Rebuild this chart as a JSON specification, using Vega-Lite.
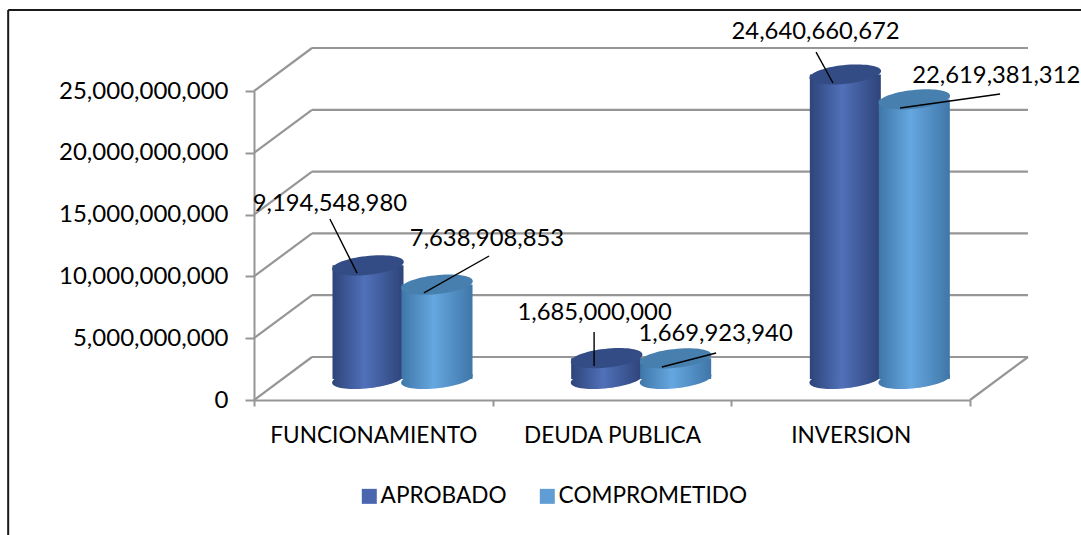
{
"$schema":"https://vega.github.io/schema/vega-lite/v6.json",
"width":716,"height":309,"autosize":"none",
"padding":{"left":254,"top":91,"right":111,"bottom":135},
"background":"white",
"config":{"view":{"stroke":null},"font":"Lato"},
"datasets":{
"bars":[
{"category":"FUNCIONAMIENTO","series":"APROBADO","value":9194548980,"labelU":0.318,"labelV":15860000000,"lineU":0.318,"lineV":14640000000,"endU":0.432,"endV":10270000000},
{"category":"FUNCIONAMIENTO","series":"COMPROMETIDO","value":7638908853,"labelU":0.976,"labelV":13020000000,"lineU":0.985,"lineV":11650000000,"endU":0.712,"endV":8660000000},
{"category":"DEUDA PUBLICA","series":"APROBADO","value":1685000000,"labelU":1.427,"labelV":7040000000,"lineU":1.425,"lineV":5500000000,"endU":1.425,"endV":2750000000},
{"category":"DEUDA PUBLICA","series":"COMPROMETIDO","value":1669923940,"labelU":1.934,"labelV":5340000000,"lineU":1.936,"lineV":3800000000,"endU":1.709,"endV":2670000000},
{"category":"INVERSION","series":"APROBADO","value":24640660672,"labelU":2.353,"labelV":29770000000,"lineU":2.355,"lineV":28150000000,"endU":2.426,"endV":25650000000},
{"category":"INVERSION","series":"COMPROMETIDO","value":22619381312,"labelU":3.11,"labelV":26210000000,"lineU":3.126,"lineV":24760000000,"endU":2.707,"endV":23620000000}
],
"levels":[{"level":0},{"level":5000000000},{"level":10000000000},{"level":15000000000},{"level":20000000000},{"level":25000000000}]
},
"resolve":{"scale":{"x":"independent"},"axis":{"x":"independent"}},
"layer":[
{"data":{"name":"levels"},
 "mark":{"type":"rule","stroke":"#969696","strokeWidth":2.2,"x2Offset":58,"y2Offset":-43},
 "encoding":{"x":{"datum":0,"type":"quantitative","scale":{"domain":[0,3]},"axis":null},"x2":{"datum":0},
  "y":{"field":"level","type":"quantitative","scale":{"domain":[0,25000000000],"nice":false,"zero":false,"padding":0},
   "axis":{"values":[0,5000000000,10000000000,15000000000,20000000000,25000000000],"format":",d","title":null,"grid":false,"domainColor":"#969696","domainWidth":2,"tickColor":"#969696","tickWidth":2,"tickSize":9,"labelFontSize":24,"labelFont":"Lato","labelColor":"#000000","labelPadding":17}},
  "y2":{"field":"level"}}},
{"data":{"name":"levels"},
 "mark":{"type":"rule","stroke":"#969696","strokeWidth":2.2,"xOffset":58,"x2Offset":58,"yOffset":-43,"y2Offset":-43},
 "encoding":{"x":{"datum":0,"type":"quantitative","scale":{"domain":[0,3]},"axis":null},"x2":{"datum":3},
  "y":{"field":"level","type":"quantitative"},"y2":{"field":"level"}}},
{"data":{"values":[{"level":0}]},
 "mark":{"type":"rule","stroke":"#969696","strokeWidth":2.2,"x2Offset":58,"y2Offset":-43},
 "encoding":{"x":{"datum":3,"type":"quantitative","scale":{"domain":[0,3]},"axis":null},"x2":{"datum":3},
  "y":{"field":"level","type":"quantitative"},"y2":{"field":"level"}}},
{"data":{"name":"bars"},
 "encoding":{
  "x":{"field":"category","type":"nominal","sort":["FUNCIONAMIENTO","DEUDA PUBLICA","INVERSION"],
   "scale":{"domain":["FUNCIONAMIENTO","DEUDA PUBLICA","INVERSION"],"paddingInner":0,"paddingOuter":0},
   "axis":{"title":null,"labelAngle":0,"labelLimit":400,"tickBand":"extent","domainColor":"#969696","domainWidth":2,"tickColor":"#969696","tickWidth":2,"tickSize":6,"labelFontSize":22.6,"labelFont":"Lato","labelColor":"#000000","labelPadding":18}},
  "xOffset":{"field":"series","type":"nominal","sort":["APROBADO","COMPROMETIDO"],"scale":{"domain":["APROBADO","COMPROMETIDO"],"range":[79.5,217.5],"paddingInner":0,"paddingOuter":0}}
 },
 "layer":[
 {"transform":[{"filter":"datum.series==='APROBADO'"}],
  "layer":[
  {"mark":{"type":"point","filled":true,"opacity":1,"size":5041,"shape":"M-1,0.06 A1,0.26 -6 1,0 1,-0.06 A1,0.26 -6 1,0 -1,0.06 Z","yOffset":-21,
    "fill":{"gradient":"linear","x1":0,"y1":0,"x2":1,"y2":0,"stops":[{"offset":0,"color":"#2e4479"},{"offset":0.45,"color":"#5070b9"},{"offset":1,"color":"#2e4479"}]}},
   "encoding":{"y":{"datum":0,"type":"quantitative"}}},
  {"mark":{"type":"bar","size":71,"yOffset":-21,"y2Offset":-21,
    "fill":{"gradient":"linear","x1":0,"y1":0,"x2":1,"y2":0,"stops":[{"offset":0,"color":"#2e4479"},{"offset":0.45,"color":"#5070b9"},{"offset":1,"color":"#2e4479"}]}},
   "encoding":{"y":{"field":"value","type":"quantitative"},"y2":{"datum":0}}},
  {"mark":{"type":"point","filled":true,"opacity":1,"size":5041,"shape":"M-1,0.06 A1,0.26 -6 1,0 1,-0.06 A1,0.26 -6 1,0 -1,0.06 Z","yOffset":-21,"fill":"#334c85"},
   "encoding":{"y":{"field":"value","type":"quantitative"}}}
  ]},
 {"transform":[{"filter":"datum.series==='COMPROMETIDO'"}],
  "layer":[
  {"mark":{"type":"point","filled":true,"opacity":1,"size":5041,"shape":"M-1,0.06 A1,0.26 -6 1,0 1,-0.06 A1,0.26 -6 1,0 -1,0.06 Z","yOffset":-21,
    "fill":{"gradient":"linear","x1":0,"y1":0,"x2":1,"y2":0,"stops":[{"offset":0,"color":"#3f76a8"},{"offset":0.45,"color":"#65a7e0"},{"offset":1,"color":"#3f76a8"}]}},
   "encoding":{"y":{"datum":0,"type":"quantitative"}}},
  {"mark":{"type":"bar","size":71,"yOffset":-21,"y2Offset":-21,
    "fill":{"gradient":"linear","x1":0,"y1":0,"x2":1,"y2":0,"stops":[{"offset":0,"color":"#3f76a8"},{"offset":0.45,"color":"#65a7e0"},{"offset":1,"color":"#3f76a8"}]}},
   "encoding":{"y":{"field":"value","type":"quantitative"},"y2":{"datum":0}}},
  {"mark":{"type":"point","filled":true,"opacity":1,"size":5041,"shape":"M-1,0.06 A1,0.26 -6 1,0 1,-0.06 A1,0.26 -6 1,0 -1,0.06 Z","yOffset":-21,"fill":"#477fae"},
   "encoding":{"y":{"field":"value","type":"quantitative"}}}
  ]}
 ]},
{"data":{"name":"bars"},
 "mark":{"type":"rule","stroke":"#000000","strokeWidth":1.4},
 "encoding":{"x":{"field":"lineU","type":"quantitative","scale":{"domain":[0,3]},"axis":null},"x2":{"field":"endU"},
  "y":{"field":"lineV","type":"quantitative"},"y2":{"field":"endV"}}},
{"data":{"name":"bars"},
 "mark":{"type":"text","fontSize":23.8,"font":"Lato","color":"#000000","align":"center","baseline":"middle"},
 "encoding":{"x":{"field":"labelU","type":"quantitative","scale":{"domain":[0,3]},"axis":null},
  "y":{"field":"labelV","type":"quantitative"},
  "text":{"field":"value","type":"quantitative","format":",d"}}},
{"data":{"values":[{"u":-1.03,"u2":3.48,"v":31550000000,"v2":31550000000},{"u":-1.03,"u2":-1.03,"v":31550000000,"v2":-11000000000}]},
 "mark":{"type":"rule","stroke":"#1a1a1a","strokeWidth":2},
 "encoding":{"x":{"field":"u","type":"quantitative","scale":{"domain":[0,3]},"axis":null},"x2":{"field":"u2"},
  "y":{"field":"v","type":"quantitative"},"y2":{"field":"v2"}}},
{"data":{"name":"bars"},
 "transform":[{"filter":"false"}],
 "mark":{"type":"point","filled":true,"opacity":1},
 "encoding":{"x":{"datum":0,"type":"quantitative","scale":{"domain":[0,3]},"axis":null},
  "y":{"field":"value","type":"quantitative"},
  "color":{"field":"series","type":"nominal","scale":{"domain":["APROBADO","COMPROMETIDO"],"range":["#4a66ae","#609dd5"]},
   "legend":{"title":null,"orient":"none","legendX":104,"legendY":394,"direction":"horizontal","symbolType":"square","symbolSize":225,"symbolStrokeWidth":0,"labelFontSize":22.6,"labelFont":"Lato","labelColor":"#000000","labelOffset":0,"labelLimit":400,"columnPadding":29,"rowPadding":0}}}}
]
}
